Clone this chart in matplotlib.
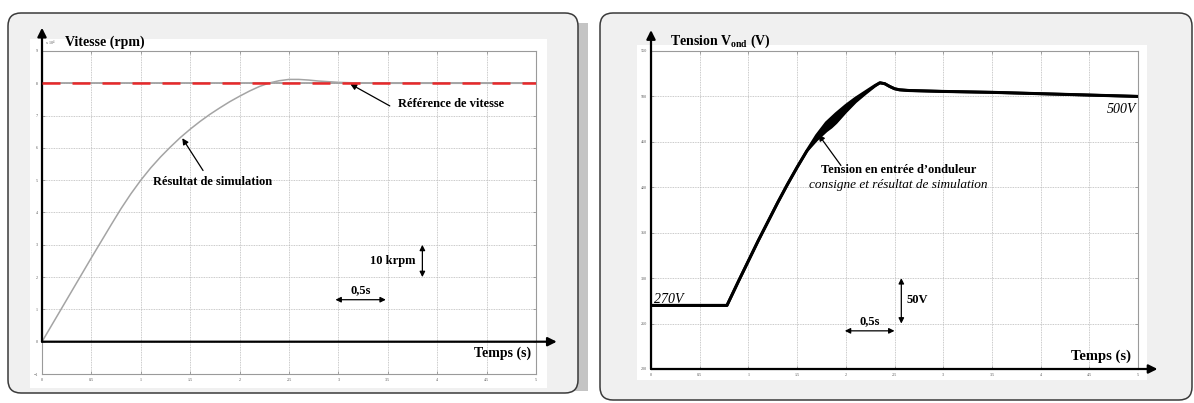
# %% Speed and inverter voltage step responses, two framed panels

import matplotlib.pyplot as plt
import matplotlib as mpl
from matplotlib.patches import FancyBboxPatch, Rectangle

# %% Data

# Left panel: speed (x 10^4 rpm)
t_speed = [0, 0.5, 0.7, 0.8, 0.9, 1.0, 1.1, 1.2, 1.3, 1.4, 1.5, 1.6, 1.7, 1.8, 1.9, 2.0, 2.1, 2.2,
           2.3, 2.4, 2.5, 2.6, 2.7, 2.8, 2.9, 3.0, 3.2, 3.4, 5.0]
speed_sim = [0, 2.6, 3.62, 4.12, 4.58, 5.0, 5.38, 5.72, 6.03, 6.32, 6.58, 6.82, 7.04, 7.24, 7.43,
             7.6, 7.76, 7.9, 8.01, 8.08, 8.12, 8.12, 8.1, 8.07, 8.05, 8.03, 8.01, 8.0, 8.0]
t_ref = [0, 5]
speed_ref = [8, 8]

# Right panel: inverter input voltage (V), set-point and simulation
t_volt = [0, 0.78, 0.9, 1.0, 1.1, 1.2, 1.3, 1.4, 1.5, 1.6, 1.7, 1.8, 1.85, 1.9, 2.0, 2.1, 2.2,
          2.3, 2.35, 2.4, 2.45, 2.5, 2.55, 2.65, 3.0, 3.5, 4.0, 4.5, 5.0]
volt_ref = [270, 270, 297, 319, 341, 362, 383, 403, 422, 440, 457, 471, 476, 481, 490, 498, 505,
            512, 515, 514, 511, 508.5, 507.3, 506.5, 505.5, 504.5, 503, 501.5, 500]
volt_sim = [270, 270, 297, 319, 341, 362, 383, 403, 422, 440, 452, 462, 466, 471, 483, 494, 503,
            511.5, 515, 514, 511, 508.5, 507.3, 506.5, 505.5, 504.5, 503, 501.5, 500]

x_ticks = [0, 0.5, 1, 1.5, 2, 2.5, 3, 3.5, 4, 4.5, 5]
x_ticklabels = ['0', '0.5', '1', '1.5', '2', '2.5', '3', '3.5', '4', '4.5', '5']
speed_ticks = [-1, 0, 1, 2, 3, 4, 5, 6, 7, 8, 9]
volt_ticks = [200, 250, 300, 350, 400, 450, 500, 550]

# %% Style

mpl.rcParams['font.family'] = 'Liberation Serif'
mpl.rcParams['mathtext.fontset'] = 'custom'
mpl.rcParams['mathtext.rm'] = 'Liberation Serif:bold'

W, H = 1194, 403
fig = plt.figure(figsize=(W / 100, H / 100), dpi=100)
fig.set_facecolor('white')


def inch(x, y):
    # pixel (top-left origin) -> inches (bottom-left origin)
    return x / 100, (H - y) / 100


def frame(x0, y0, x1, y1, shadow=False):
    tr = fig.dpi_scale_trans
    if shadow:
        sx, sy = inch(x1 - 12, y0 + 10)
        fig.patches.append(Rectangle((sx, (H - y1 + 2) / 100), 0.22, (y1 - y0 - 12) / 100,
                                     transform=tr, facecolor='#c4c4c4', edgecolor='none', zorder=0))
    bx, by = inch(x0, y1)
    fig.patches.append(FancyBboxPatch((bx, by), (x1 - x0) / 100, (y1 - y0) / 100,
                                      boxstyle='round,pad=0,rounding_size=0.13', transform=tr,
                                      facecolor='#f0f0f0', edgecolor='#3a3a3a', lw=1.1, zorder=1))


def white_area(x0, y0, x1, y1):
    bx, by = inch(x0, y1)
    fig.patches.append(Rectangle((bx, by), (x1 - x0) / 100, (y1 - y0) / 100, transform=fig.dpi_scale_trans,
                                 facecolor='white', edgecolor='none', zorder=2))


frame(8, 13, 578, 393, shadow=True)
frame(600, 13, 1192, 400)
white_area(30, 39, 547, 388)
white_area(637, 45, 1147, 380)


def style_axes(ax, yticks):
    ax.set_facecolor('none')
    ax.set_xticks(x_ticks)
    ax.set_xticklabels(x_ticklabels)
    ax.set_yticks(yticks)
    ax.tick_params(direction='in', length=2, width=0.5, colors='#888888', labelsize=3,
                   labelcolor='#555555', pad=3, top=True, right=True)
    ax.grid(True, color='#b8b8b8', lw=0.6, linestyle=(0, (1, 1)))
    for s in ax.spines.values():
        s.set_color('#9a9a9a')
        s.set_linewidth(0.8)


arrow_axis = dict(arrowstyle='-|>', lw=1.6, color='black', mutation_scale=13, shrinkA=0, shrinkB=0)
arrow_note = dict(arrowstyle='-|>', lw=0.9, color='black', mutation_scale=9, shrinkA=0, shrinkB=0)
arrow_dbl = dict(arrowstyle='<|-|>', lw=0.9, color='black', mutation_scale=8, shrinkA=0, shrinkB=0)

# %% Left panel - speed

ax1 = fig.add_axes([42 / W, (H - 374) / H, 494 / W, 323 / H], zorder=5)
style_axes(ax1, speed_ticks)
ax1.set_xlim(0, 5)
ax1.set_ylim(-1, 9)

ax1.plot(t_ref, speed_ref, color='#9a9a9a', lw=1.2, zorder=3)
ax1.plot(t_speed, speed_sim, color='#a4a4a4', lw=1.1, zorder=3, solid_joinstyle='round')
ax1.plot(t_ref, speed_ref, color='#e8282a', lw=1.8, dashes=[7.2, 4.8], zorder=4)

# black axes
ax1.annotate('', xy=(0, 9.72), xytext=(0, 0), arrowprops=arrow_axis, annotation_clip=False)
ax1.annotate('', xy=(5.21, 0), xytext=(0, 0), arrowprops=arrow_axis, annotation_clip=False)

ax1.text(0.03, 9.08, r'x 10$^{\mathregular{4}}$', fontsize=3, color='#555555', va='bottom')
ax1.text(0.23, 9.05, 'Vitesse (rpm)', fontsize=10, fontweight='bold', va='bottom')
ax1.text(4.95, -0.35, 'Temps (s)', fontsize=10, fontweight='bold', ha='right', va='center')

ax1.annotate('', xy=(1.42, 6.3), xytext=(1.63, 5.3), arrowprops=arrow_note)
ax1.text(1.12, 4.95, 'Résultat de simulation', fontsize=9, fontweight='bold', va='center')
ax1.annotate('', xy=(3.12, 7.98), xytext=(3.52, 7.3), arrowprops=arrow_note)
ax1.text(3.6, 7.35, 'Référence de vitesse', fontsize=9, fontweight='bold', va='center')

ax1.annotate('', xy=(3.85, 3.0), xytext=(3.85, 2.0), arrowprops=arrow_dbl)
ax1.text(3.78, 2.5, '10 krpm', fontsize=9, fontweight='bold', ha='right', va='center')
ax1.annotate('', xy=(2.97, 1.3), xytext=(3.48, 1.3), arrowprops=arrow_dbl)
ax1.text(3.23, 1.6, '0,5s', fontsize=9, fontweight='bold', ha='center', va='center')

# %% Right panel - inverter voltage

ax2 = fig.add_axes([651 / W, (H - 369) / H, 487 / W, 318 / H], zorder=5)
style_axes(ax2, volt_ticks)
ax2.set_xlim(0, 5)
ax2.set_ylim(200, 550)

ax2.fill_between(t_volt, volt_sim, volt_ref, color='black', lw=0, zorder=3)
ax2.plot(t_volt, volt_ref, color='black', lw=2.2, zorder=3, solid_joinstyle='round')
ax2.plot(t_volt, volt_sim, color='black', lw=2.0, zorder=3, solid_joinstyle='round')

ax2.annotate('', xy=(0, 573), xytext=(0, 200), arrowprops=arrow_axis, annotation_clip=False)
ax2.annotate('', xy=(5.2, 200), xytext=(0, 200), arrowprops=arrow_axis, annotation_clip=False)

ax2.text(0.2, 551, r'Tension V$_{\rm ond}$ (V)', fontsize=10, fontweight='bold', va='bottom')
ax2.text(4.93, 214, 'Temps (s)', fontsize=10.5, fontweight='bold', ha='right', va='center')
ax2.text(0.03, 277, '270V', fontsize=10, style='italic', va='center')
ax2.text(4.98, 486, '500V', fontsize=10, style='italic', ha='right', va='center')

ax2.annotate('', xy=(1.72, 458), xytext=(1.95, 424), arrowprops=arrow_note)
ax2.text(2.54, 419, 'Tension en entrée d’onduleur', fontsize=9, fontweight='bold', ha='center', va='center')
ax2.text(2.54, 402, 'consigne et résultat de simulation', fontsize=9.5, style='italic', ha='center', va='center')

ax2.annotate('', xy=(1.99, 242), xytext=(2.5, 242), arrowprops=arrow_dbl)
ax2.text(2.25, 253, '0,5s', fontsize=9, fontweight='bold', ha='center', va='center')
ax2.annotate('', xy=(2.57, 300), xytext=(2.57, 250), arrowprops=arrow_dbl)
ax2.text(2.62, 276, '50V', fontsize=9, fontweight='bold', ha='left', va='center')

fig.savefig('out.png', dpi=100)
